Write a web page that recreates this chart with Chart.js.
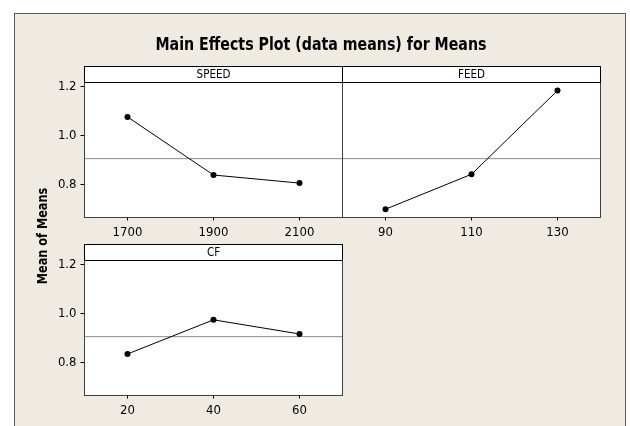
<!DOCTYPE html>
<html>
<head>
<meta charset="utf-8">
<script src="https://cdn.jsdelivr.net/npm/chart.js@4"></script>
<style>
  html, body { margin: 0; padding: 0; background: #ffffff; overflow: hidden; }
  #wrap { position: relative; width: 630px; height: 426px; overflow: hidden; }
  #frame { position: absolute; left: 14px; top: 13px; width: 610px; height: 500px;
           border: 1px solid #5a5a5a; background: rgb(239,235,226); }
  canvas { position: absolute; left: 0; top: 0; }
  #title { position: absolute; left: 0; width: 642px; top: 34px; line-height: 18px; text-align: center;
           font: bold 17px "DejaVu Sans Condensed", "DejaVu Sans", sans-serif; color: #000; white-space: nowrap;
           transform: scaleX(0.928); }
  #ytitle { position: absolute; left: -58px; top: 228px; width: 200px; line-height: 14px; text-align: center;
            font: bold 13.5px "DejaVu Sans Condensed", "DejaVu Sans", sans-serif; color: #000;
            transform: rotate(-90deg) scaleX(0.93); white-space: nowrap; }
</style>
</head>
<body>
<div id="wrap">
  <div id="frame"></div>
  <canvas id="c1" width="630" height="426"></canvas>
  <canvas id="c2" width="630" height="426"></canvas>
  <canvas id="c3" width="630" height="426"></canvas>
  <div id="title">Main Effects Plot (data means) for Means</div>
  <div id="ytitle">Mean of Means</div>
</div>
<script>
// ---- data ----
const speedLevels = [1700, 1900, 2100];
const speedMeans  = [1.076, 0.838, 0.805];
const feedLevels  = [90, 110, 130];
const feedMeans   = [0.698, 0.841, 1.184];
const cfLevels    = [20, 40, 60];
const cfMeans     = [0.834, 0.974, 0.916];
const grandMean   = 0.905;
const yTickValues = [0.8, 1.0, 1.2];
const yTickLabels = ['0.8', '1.0', '1.2'];
const speedTickLabels = ['1700', '1900', '2100'];
const feedTickLabels  = ['90', '110', '130'];
const cfTickLabels    = ['20', '40', '60'];
const panelNames = ['SPEED', 'FEED', 'CF'];

const FONT = '"DejaVu Sans Condensed", "DejaVu Sans", sans-serif';
const STRIP_H = 16;

const panelPlugin = {
  id: 'panel',
  beforeDraw(chart, args, opts) {
    const { ctx, chartArea: a } = chart;
    ctx.save();
    ctx.fillStyle = '#ffffff';
    ctx.fillRect(a.left, a.top - STRIP_H, a.right - a.left, a.bottom - a.top + STRIP_H);
    ctx.restore();
  },
  afterDraw(chart, args, opts) {
    const { ctx, chartArea: a } = chart;
    ctx.save();
    // panel border
    ctx.strokeStyle = '#404040';
    ctx.lineWidth = 1;
    ctx.strokeRect(a.left, a.top, a.right - a.left, a.bottom - a.top);
    // strip
    ctx.strokeStyle = '#000000';
    ctx.strokeRect(a.left, a.top - STRIP_H, a.right - a.left, STRIP_H);
    ctx.fillStyle = '#000000';
    ctx.font = '11.5px ' + FONT;
    ctx.textAlign = 'center';
    ctx.textBaseline = 'middle';
    ctx.fillText(opts.label, (a.left + a.right) / 2, a.top - STRIP_H / 2 + 0.5);
    ctx.restore();
  }
};

function makePanel(id, levels, means, tickLabels, xmin, xmax, label, showY, pad) {
  const yScale = {
    type: 'linear', min: 0.664, max: 1.217, display: showY,
    afterBuildTicks: s => { s.ticks = yTickValues.map(v => ({ value: v })); },
    afterFit: s => { s.width = showY ? 40 : 0; },
    grid: { display: true, drawOnChartArea: false, drawTicks: true, tickLength: 4, color: '#000', lineWidth: 1 },
    border: { display: false },
    ticks: {
      padding: 4, color: '#000', font: { family: FONT, size: 13 },
      callback: (v) => { const i = yTickValues.indexOf(v); return i >= 0 ? yTickLabels[i] : ''; }
    }
  };
  return new Chart(document.getElementById(id), {
    type: 'scatter',
    data: {
      datasets: [
        {
          data: [{ x: xmin, y: grandMean }, { x: xmax, y: grandMean }],
          showLine: true, borderColor: '#8a8a8a', borderWidth: 1, pointRadius: 0, order: 2
        },
        {
          data: levels.map((x, i) => ({ x, y: means[i] })),
          showLine: true, borderColor: '#000', borderWidth: 1,
          pointRadius: 3, pointBackgroundColor: '#000', pointBorderWidth: 0, order: 1
        }
      ]
    },
    options: {
      responsive: false, animation: false, devicePixelRatio: 1,
      layout: { autoPadding: false, padding: pad },
      plugins: { legend: { display: false }, tooltip: { enabled: false }, panel: { label } },
      scales: {
        x: {
          type: 'linear', min: xmin, max: xmax,
          afterBuildTicks: s => { s.ticks = levels.map(v => ({ value: v })); },
          afterFit: s => { s.height = 30; },
          grid: { display: true, drawOnChartArea: false, drawTicks: true, tickLength: 3, color: '#000', lineWidth: 1 },
          border: { display: false },
          ticks: {
            padding: 4, color: '#000', maxRotation: 0, font: { family: FONT, size: 13 },
            callback: (v) => { const i = levels.indexOf(v); return i >= 0 ? tickLabels[i] : ''; }
          }
        },
        y: yScale
      }
    },
    plugins: [panelPlugin]
  });
}

makePanel('c1', speedLevels, speedMeans, speedTickLabels, 1600, 2200, panelNames[0], true,
  { left: 44.5, right: 287.5, top: 82.5, bottom: 178.5 });
makePanel('c2', feedLevels, feedMeans, feedTickLabels, 80, 140, panelNames[1], false,
  { left: 342.5, right: 29.5, top: 82.5, bottom: 178.5 });
makePanel('c3', cfLevels, cfMeans, cfTickLabels, 10, 70, panelNames[2], true,
  { left: 44.5, right: 287.5, top: 260.5, bottom: 0.5 });
</script>
</body>
</html>
